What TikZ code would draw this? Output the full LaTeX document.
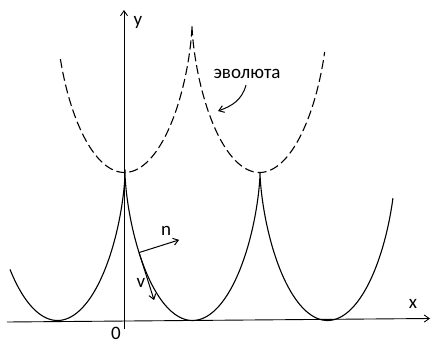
\documentclass[tikz,border=0pt]{standalone}
\usepackage{fontspec}
\setmainfont{Carlito}
\usetikzlibrary{arrows.meta}
\tikzset{
  axisline/.style={line width=0.9pt,-{Straight Barb[length=5pt,width=7pt]}},
  curveline/.style={line width=1.1pt},
  evoline/.style={line width=1.1pt,dash pattern=on 9pt off 4pt},
  vecline/.style={line width=1pt,-{Straight Barb[length=5pt,width=7pt]}},
  lbl/.style={inner sep=0pt,font=\fontsize{19}{22}\selectfont}
}
\begin{document}
\begin{tikzpicture}[x=1pt,y=-1pt]
\useasboundingbox (0,0) rectangle (431,345);
% axes
\coordinate (xs) at (7,322);
\coordinate (xe) at (430,318.5);
\coordinate (ys) at (124,329);
\coordinate (ye) at (124,10);
\draw[axisline] (xs) -- (xe);
\draw[axisline] (ys) -- (ye);
% main curve
\draw[curveline]
  plot[domain=-4.40:0,samples=80,variable=\t] ({125+21.49*(\t-sin(\t r))},{173+73.75*(1-cos(\t r))})
  -- plot[domain=0:6.2832,samples=120,variable=\t] ({125+21.49*(\t-sin(\t r))},{173+73.75*(1-cos(\t r))})
  -- plot[domain=6.2832:11.717,samples=100,variable=\t] ({125+21.49*(\t-sin(\t r))},{173+73.75*(1-cos(\t r))});
% evolute
\draw[evoline]
  plot[domain=-5.28:0,samples=100,variable=\t] ({192+21.49*(\t-sin(\t r))},{25+73.75*(1-cos(\t r))})
  -- plot[domain=0:5.40,samples=100,variable=\t] ({192+21.49*(\t-sin(\t r))},{25+73.75*(1-cos(\t r))});
% vectors
\coordinate (P) at (139.04,252.58);
\coordinate (nend) at (179.1,239.9);
\coordinate (vend) at (154.1,300.2);
\draw[vecline] (P) -- (nend);
\draw[vecline] (P) -- (vend);
% labels
\node[lbl] (nlab) at (166,231) {n};
\node[lbl] (vlab) at (141,283) {v};
\node[lbl] (xlab) at (413,304) {x};
\node[lbl] (ylab) at (138,22) {y};
\node[lbl] (olab) at (116,333.5) {0};
\node[lbl] (evo) at (247,74) {эволюта};
\coordinate (evotip) at (218,111);
\draw[vecline] (246,85) .. controls (242,100) and (232,106) .. (evotip);
\end{tikzpicture}
\end{document}
